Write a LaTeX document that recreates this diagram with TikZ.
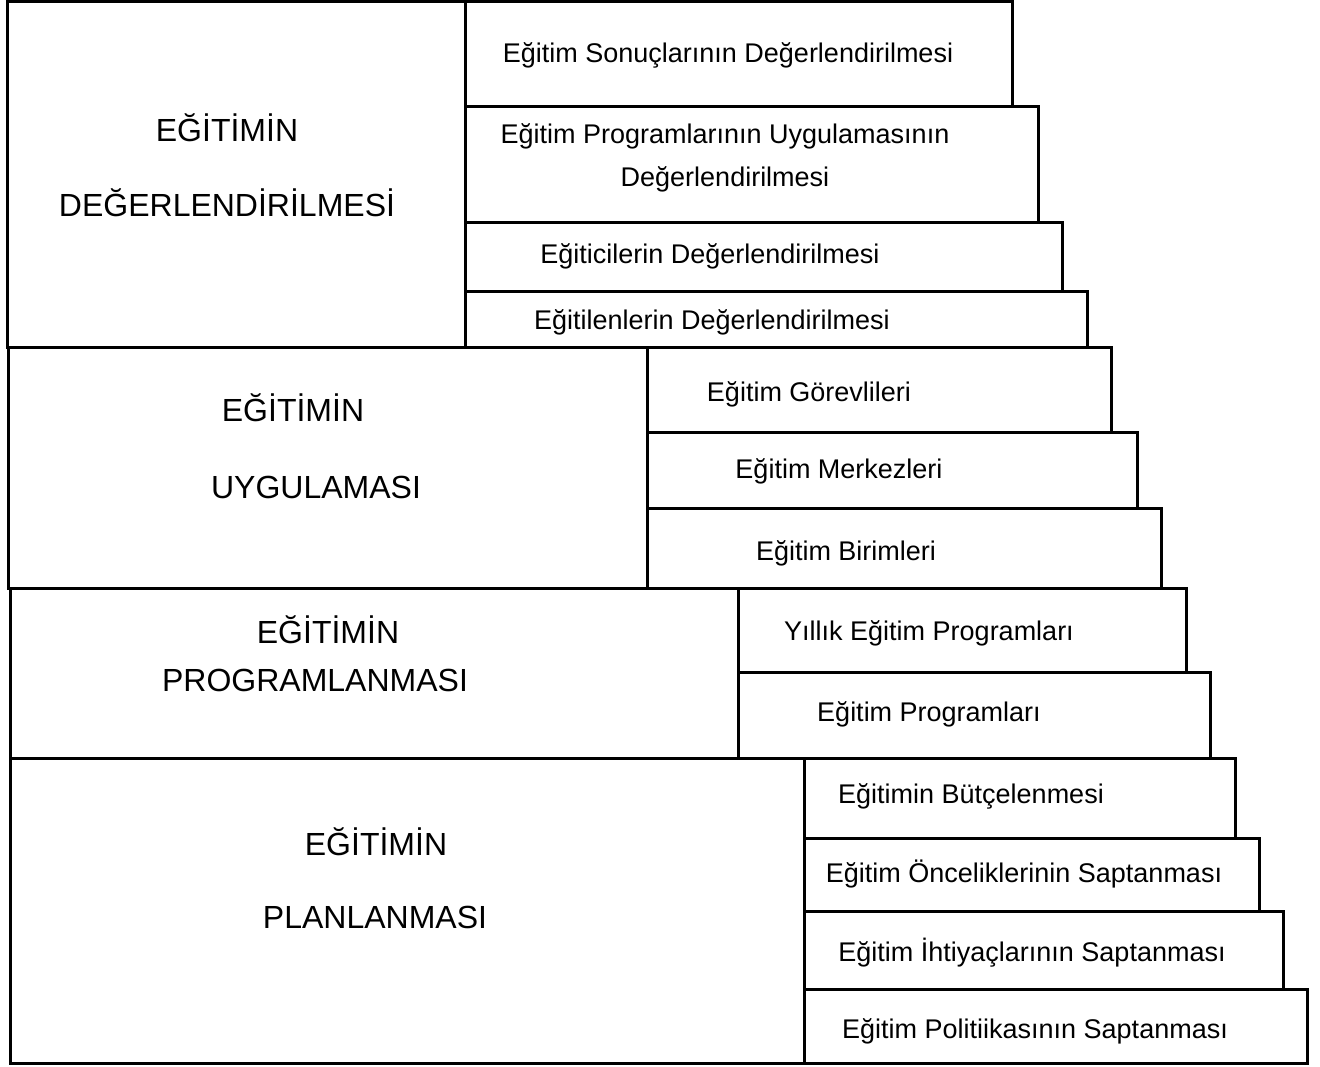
\documentclass[tikz,border=0pt]{standalone}
\usepackage{fontspec}
\setmainfont{Liberation Sans}
\begin{document}
\begin{tikzpicture}[x=1pt,y=-1pt,
  box/.style={draw=black,line width=3pt},
  small/.style={inner sep=0pt,font=\fontsize{27}{43}\selectfont},
  big/.style={inner sep=0pt,font=\fontsize{32}{38}\selectfont}]
\useasboundingbox (0,0) rectangle (1320,1067);
% left main boxes
\draw[box] (7,2) rectangle (465,347);
\draw[box] (8,347) rectangle (647,588);
\draw[box] (10,588) rectangle (738,758);
\draw[box] (10,758) rectangle (804,1063);
% group 1
\draw[box] (465,2) rectangle (1012,107);
\draw[box] (465,107) rectangle (1038,223);
\draw[box] (465,223) rectangle (1062,292);
\draw[box] (465,292) rectangle (1087,347);
% group 2
\draw[box] (647,347) rectangle (1111,432);
\draw[box] (647,432) rectangle (1137,508);
\draw[box] (647,508) rectangle (1161,588);
% group 3
\draw[box] (738,588) rectangle (1186,672);
\draw[box] (738,672) rectangle (1210,758);
% group 4
\draw[box] (804,758) rectangle (1235,838);
\draw[box] (804,838) rectangle (1259,911);
\draw[box] (804,911) rectangle (1283,989);
\draw[box] (804,989) rectangle (1307,1063);
% titles
\node[big] (t1a) at (227,128) {EĞİTİMİN};
\node[big] (t1b) at (227,203) {DEĞERLENDİRİLMESİ};
\node[big] (t2a) at (293,408) {EĞİTİMİN};
\node[big] (t2b) at (316,487) {UYGULAMASI};
\node[big] (t3a) at (328,630) {EĞİTİMİN};
\node[big] (t3b) at (315,680) {PROGRAMLANMASI};
\node[big] (t4a) at (376,842) {EĞİTİMİN};
\node[big] (t4b) at (375,917) {PLANLANMASI};
% items
\node[small] (s1) at (728,55) {Eğitim Sonuçlarının Değerlendirilmesi};
\node[small,align=center] (s2) at (725,158) {Eğitim Programlarının Uygulamasının\\Değerlendirilmesi};
\node[small] (s3) at (710,256) {Eğiticilerin Değerlendirilmesi};
\node[small] (s4) at (712,322) {Eğitilenlerin Değerlendirilmesi};
\node[small] (u1) at (809,394) {Eğitim Görevlileri};
\node[small] (u2) at (839,471) {Eğitim Merkezleri};
\node[small] (u3) at (846,553) {Eğitim Birimleri};
\node[small] (p1) at (929,633) {Yıllık Eğitim Programları};
\node[small] (p2) at (929,714) {Eğitim Programları};
\node[small] (l1) at (971,796) {Eğitimin Bütçelenmesi};
\node[small] (l2) at (1024,874) {Eğitim Önceliklerinin Saptanması};
\node[small] (l3) at (1032,953) {Eğitim İhtiyaçlarının Saptanması};
\node[small] (l4) at (1035,1031) {Eğitim Politiikasının Saptanması};
\end{tikzpicture}
\end{document}
